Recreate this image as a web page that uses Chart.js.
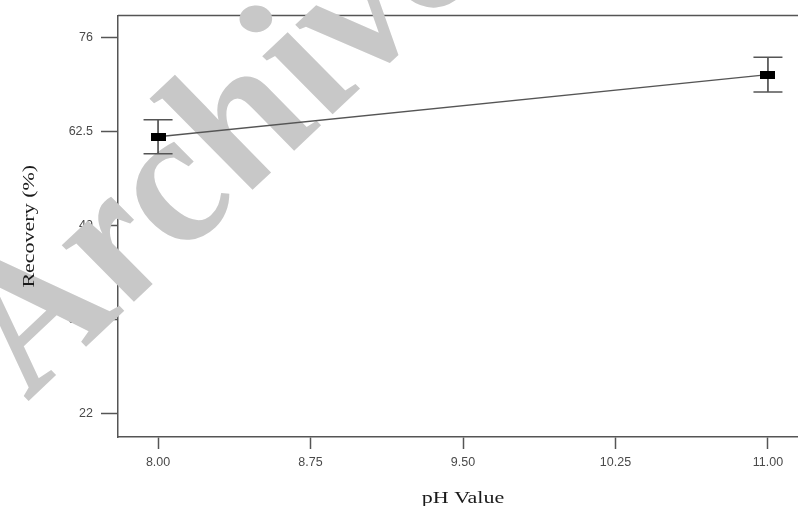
<!DOCTYPE html>
<html>
<head>
<meta charset="utf-8">
<script src="https://cdn.jsdelivr.net/npm/chart.js@4/dist/chart.umd.min.js"></script>
<style>
  html, body { margin: 0; padding: 0; background: #ffffff; overflow: hidden; width: 798px; height: 506px; }
  #wrap { width: 840px; height: 506px; }
  canvas { display: block; }
</style>
</head>
<body>
<div id="wrap"><canvas id="c" width="840" height="506"></canvas></div>
<script>
// pH levels and mean recovery with error half-widths
const phValues = [8.00, 11.00];
const recovery = [61.75, 70.70];
const errorHalf = [2.45, 2.50];

// axis ticks
const xTicks = [8.00, 8.75, 9.50, 10.25, 11.00];
const yTicks = [22, 35.5, 49, 62.5, 76];

const xTitle = 'pH Value';
const yTitle = 'Recovery (%)';
const watermark = 'Archive';

const AXIS = '#555555';

// flat black rectangle used as point marker
const marker = document.createElement('canvas');
marker.width = 15; marker.height = 8;
(function () {
  const m = marker.getContext('2d');
  m.fillStyle = '#000000';
  m.fillRect(0, 0, 15, 8);
})();

const framePlugin = {
  id: 'frameAndBars',
  beforeDatasetsDraw(chart) {
    const { ctx, chartArea: a, scales } = chart;
    ctx.save();
    // top and right frame lines
    ctx.strokeStyle = AXIS;
    ctx.lineWidth = 1.5;
    ctx.beginPath();
    ctx.moveTo(a.left, a.top);
    ctx.lineTo(a.right, a.top);
    ctx.lineTo(a.right, a.bottom);
    ctx.stroke();

    // watermark text, widened horizontally
    ctx.save();
    ctx.translate(36, 394);
    ctx.scale(1.22, 1);
    ctx.rotate(-49 * Math.PI / 180);
    ctx.font = 'italic bold 178px "Liberation Serif"';
    ctx.fillStyle = '#c8c8c8';
    ctx.textBaseline = 'alphabetic';
    ctx.fillText(watermark, 0, 0);
    ctx.restore();

    // error bars
    const xs = scales.x, ys = scales.y;
    for (let i = 0; i < phValues.length; i++) {
      const px = xs.getPixelForValue(phValues[i]);
      const top = ys.getPixelForValue(recovery[i] + errorHalf[i]);
      const bot = ys.getPixelForValue(recovery[i] - errorHalf[i]);
      ctx.strokeStyle = '#3a3a3a';
      ctx.lineWidth = 1.5;
      ctx.beginPath();
      ctx.moveTo(px, top); ctx.lineTo(px, bot);
      ctx.stroke();
      ctx.strokeStyle = '#555555';
      ctx.beginPath();
      ctx.moveTo(px - 14.5, top); ctx.lineTo(px + 14.5, top);
      ctx.moveTo(px - 14.5, bot); ctx.lineTo(px + 14.5, bot);
      ctx.stroke();
    }
    ctx.restore();
  },
  afterDraw(chart) {
    const { ctx, chartArea: a } = chart;
    ctx.save();
    ctx.fillStyle = '#1a1a1a';
    ctx.font = '17.6px "Liberation Serif"';
    ctx.textAlign = 'center';
    ctx.textBaseline = 'alphabetic';
    // x title
    ctx.save();
    ctx.translate((a.left + a.right) / 2, 503);
    ctx.scale(1.25, 1);
    ctx.fillText(xTitle, 0, 0);
    ctx.restore();
    // y title
    ctx.save();
    ctx.translate(34, (a.top + a.bottom) / 2);
    ctx.rotate(-Math.PI / 2);
    ctx.scale(1.25, 1);
    ctx.fillText(yTitle, 0, 0);
    ctx.restore();
    ctx.restore();
  }
};

new Chart(document.getElementById('c'), {
  type: 'scatter',
  data: {
    datasets: [{
      data: phValues.map((x, i) => ({ x: x, y: recovery[i] })),
      showLine: true,
      borderColor: '#555555',
      borderWidth: 1.3,
      pointStyle: marker,
      pointRadius: 8,
      pointHoverRadius: 8,
      tension: 0
    }]
  },
  options: {
    responsive: false,
    animation: false,
    devicePixelRatio: 1,
    layout: { padding: { left: 0, top: 13, right: 32, bottom: 0 } },
    plugins: { legend: { display: false }, tooltip: { enabled: false } },
    scales: {
      x: {
        type: 'linear',
        min: 7.803,
        max: 11.197,
        afterBuildTicks(s) { s.ticks = xTicks.map(v => ({ value: v })); },
        afterFit(s) { s.height = 69; },
        grid: { drawOnChartArea: false, drawTicks: true, tickLength: 12, tickColor: AXIS, tickWidth: 1.5 },
        border: { display: true, color: AXIS, width: 1.5 },
        ticks: {
          padding: 6,
          color: '#4a4a4a',
          font: { family: '"Liberation Sans"', size: 12.5 },
          maxRotation: 0,
          autoSkip: false,
          callback: v => Number(v).toFixed(2)
        }
      },
      y: {
        type: 'linear',
        min: 18.57,
        max: 79.19,
        afterBuildTicks(s) { s.ticks = yTicks.map(v => ({ value: v })); },
        afterFit(s) { s.width = 118; },
        grid: { drawOnChartArea: false, drawTicks: true, tickLength: 17, tickColor: AXIS, tickWidth: 1.5 },
        border: { display: true, color: AXIS, width: 1.5 },
        ticks: {
          padding: 8,
          color: '#4a4a4a',
          font: { family: '"Liberation Sans"', size: 12.5 },
          autoSkip: false,
          callback: v => String(v)
        }
      }
    }
  },
  plugins: [framePlugin]
});
</script>
</body>
</html>
